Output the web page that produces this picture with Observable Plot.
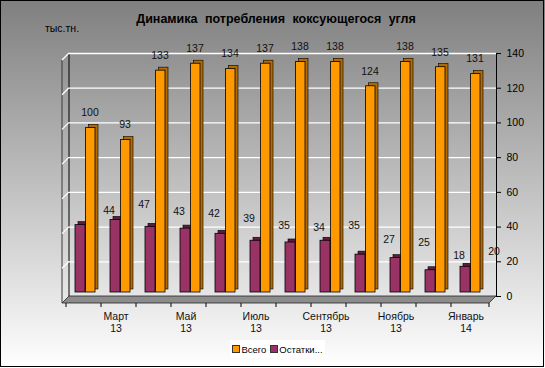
<!DOCTYPE html>
<html>
<head>
<meta charset="utf-8">
<script src="https://cdn.jsdelivr.net/npm/d3@7"></script>
<script src="https://cdn.jsdelivr.net/npm/@observablehq/plot@0.6"></script>
<style>
  body { margin: 0; }
  #chart { position: relative; width: 545px; height: 368px; overflow: hidden;
    background: linear-gradient(#7f7f7f, #ffffff);
    font-family: "Liberation Sans", Arial, sans-serif; }
  #border { position: absolute; left: 0; top: 0; width: 542px; height: 365px;
    border: 1.5px solid #000; pointer-events: none; }
  #title { position: absolute; top: 12px; left: 276px; transform: translateX(-50%);
    white-space: nowrap; font-weight: bold; font-size: 12.5px; word-spacing: 4px; color: #000; }
  #unit { position: absolute; top: 22px; left: 45px; font-size: 10.5px; color: #000; }
  #legend { position: absolute; left: 230px; top: 340px; width: 95px; height: 18px;
    background: #fff; font-size: 9.5px; display: flex; align-items: center;
    justify-content: center; gap: 4px; color: #000; }
  #legend .sw { display: inline-block; width: 6px; height: 6px; border: 0.5px solid #333;
    margin-right: 1px; vertical-align: 0px; }
  #plot { position: absolute; left: 0; top: 0; }
</style>
</head>
<body>
<div id="chart">
  <div id="plot"></div>
  <div id="title">Динамика потребления коксующегося угля</div>
  <div id="unit">тыс.тн.</div>
  <div id="legend"><span><span class="sw" style="background:#ff9900"></span>Всего</span><span><span class="sw" style="background:#993366"></span>Остатки...</span></div>
  <div id="border"></div>
</div>
<script>
const months = ["Февраль 13", "Март 13", "Апрель 13", "Май 13", "Июнь 13", "Июль 13",
  "Август 13", "Сентябрь 13", "Октябрь 13", "Ноябрь 13", "Декабрь 13", "Январь 14"];
const labeledMonths = ["Март 13", "Май 13", "Июль 13", "Сентябрь 13", "Ноябрь 13", "Январь 14"];
const total = [100, 93, 133, 137, 134, 137, 138, 138, 124, 138, 135, 131];
const rest = [44, 47, 43, 42, 39, 35, 34, 35, 27, 25, 18, 20];
const yTicks = [0, 20, 40, 60, 80, 100, 120, 140];

const data = months.map((m, i) => ({month: m, total: total[i], rest: rest[i]}));

const depth = 7;

function walls(index, scales, values, dims) {
  const {width, marginRight, marginLeft} = dims;
  const y = scales.y, x = scales.x;
  const x0 = marginLeft, x1 = width - marginRight;
  const y0 = y(0), yTop = y(yTicks[yTicks.length - 1]);
  const g = d3.create("svg:g");
  g.append("path")
    .attr("d", `M${x0},${y0}L${x1},${y0}L${x1 - depth},${y0 + depth}L${x0 - depth},${y0 + depth}Z`)
    .attr("fill", "#8c8c8c").attr("stroke", "#222").attr("stroke-width", 0.8);
  g.append("path").attr("d", `M${x0 - depth},${y0 + depth}L${x0 - depth},${yTop + depth}`)
    .attr("stroke", "#3a3a3a").attr("fill", "none");
  g.append("path").attr("d", `M${x0},${y0}L${x0},${yTop}`)
    .attr("stroke", "#000").attr("fill", "none");
  for (const t of yTicks.slice(1)) {
    g.append("path").attr("d", `M${x0 - depth},${y(t) + depth}L${x0},${y(t)}`)
      .attr("stroke", "#fff").attr("stroke-width", 1.2).attr("fill", "none");
  }
  const starts = months.map(m => x(m));
  starts.push(x1);
  for (const s of starts) {
    g.append("path").attr("d", `M${s - depth},${y0 + depth}L${s - depth},${y0 + depth + 4}`)
      .attr("stroke", "#000").attr("fill", "none");
  }
  return g.node();
}

const purpleGeom = {insetLeft: 2, insetRight: 23, insetTop: 5, insetBottom: 4};
const orangeGeom = {insetLeft: 12.6, insetRight: 13, insetTop: 5, insetBottom: 4};

const plot = Plot.plot({
  width: 545,
  height: 368,
  marginTop: 53,
  marginBottom: 72,
  marginLeft: 69,
  marginRight: 49,
  style: {background: "transparent", fontFamily: "'Liberation Sans', Arial, sans-serif", fontSize: "10.5px", color: "#000", overflow: "visible"},
  x: {type: "band", domain: months, padding: 0, axis: null},
  y: {domain: [0, 140], axis: "right", ticks: yTicks, tickSize: 4, tickPadding: 6, line: true, label: null},
  marks: [
    walls,
    Plot.ruleY(yTicks.slice(1), {stroke: "#fff", strokeWidth: 1.3}),
    Plot.barY(data, {x: "month", y: "rest", fill: "#5e1d3d", stroke: "#000", strokeWidth: 0.6, dx: 3, dy: -3, ...purpleGeom}),
    Plot.barY(data, {x: "month", y: "rest", fill: "#993366", stroke: "#000", strokeWidth: 0.8, ...purpleGeom}),
    Plot.barY(data, {x: "month", y: "total", fill: "#b36b00", stroke: "#000", strokeWidth: 0.6, dx: 3, dy: -3, ...orangeGeom}),
    Plot.barY(data, {x: "month", y: "total", fill: "#ff9900", stroke: "#000", strokeWidth: 0.8, ...orangeGeom}),
    Plot.text(data, {x: "month", y: "total", text: d => String(d.total), dx: -1, dy: -10, fontSize: 10.5, fill: "#111"}),
    Plot.text(data, {x: "month", y: "rest", text: d => String(d.rest), dx: 18, dy: -10, fontSize: 10.5, fill: "#111"}),
    Plot.text(labeledMonths, {x: d => d, text: d => d.replace(" ", "\n"), frameAnchor: "bottom",
      lineAnchor: "top", dy: 15, dx: -10, fontSize: 10.5, lineHeight: 1.15, fill: "#111"})
  ]
});
document.getElementById("plot").appendChild(plot);
</script>
</body>
</html>
